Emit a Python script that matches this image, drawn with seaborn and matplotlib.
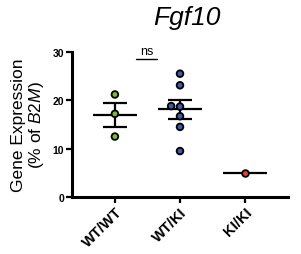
import numpy as np
import pandas as pd
import matplotlib.pyplot as plt
import seaborn as sns

# -----------------------------
# DATA
# -----------------------------
genotypes = ["WT/WT", "WT/KI", "KI/KI"]
wt_wt = [21.2, 17.2, 12.5]
wt_ki = [25.5, 23.1, 18.8, 18.7, 16.7, 14.5, 9.5]
ki_ki = [4.9]
palette = {"WT/WT": "#7cbb3a", "WT/KI": "#3c5ca8", "KI/KI": "#e8402a"}

df = pd.DataFrame({
    "genotype": ["WT/WT"] * len(wt_wt) + ["WT/KI"] * len(wt_ki) + ["KI/KI"] * len(ki_ki),
    "expr": wt_wt + wt_ki + ki_ki,
})
summary = df.groupby("genotype", sort=False)["expr"].agg(["mean", "sem"]).reindex(genotypes)

# -----------------------------
# PLOT
# -----------------------------
sns.set_theme(style="ticks")
plt.rcParams["font.family"] = ["Liberation Sans", "DejaVu Sans"]
plt.rcParams["text.color"] = "black"
plt.rcParams["axes.labelcolor"] = "black"
plt.rcParams["xtick.color"] = "black"
plt.rcParams["ytick.color"] = "black"
plt.rcParams["mathtext.fontset"] = "custom"
plt.rcParams["mathtext.it"] = "Liberation Sans:italic"
plt.rcParams["mathtext.rm"] = "Liberation Sans"

fig = plt.figure(figsize=(3.01, 2.55), dpi=100)
ax = fig.add_axes([0.239, 0.2235, 0.718, 0.569])

sns.swarmplot(data=df, x="genotype", y="expr", hue="genotype", order=genotypes,
              palette=palette, size=4.8, edgecolor="black", linewidth=1.3,
              legend=False, ax=ax, zorder=3)

for i, g in enumerate(genotypes):
    m, s = summary.loc[g, "mean"], summary.loc[g, "sem"]
    ax.hlines(m, i - 0.34, i + 0.34, color="black", lw=1.6, zorder=2)
    if not np.isnan(s):
        ax.vlines(i, m - s, m + s, color="black", lw=1.6, zorder=2)
        ax.hlines([m - s, m + s], i - 0.18, i + 0.18, color="black", lw=1.6, zorder=2)

# ns annotation
ax.plot([0.32, 0.65], [28.6, 28.6], color="black", lw=1, clip_on=False)
ax.text(0.485, 29.0, "ns", ha="center", va="bottom", fontsize=9, clip_on=False)

ax.set_xlim(-0.66, 2.66)
ax.set_ylim(0, 30)
ax.set_yticks([0, 10, 20, 30])
ax.set_yticklabels(["0", "10", "20", "30"], fontsize=7.5, fontweight="bold")
ax.set_xticks(range(len(genotypes)))
ax.set_xticklabels(genotypes, rotation=45, ha="right", rotation_mode="anchor",
                   fontsize=10.5, fontweight="bold")
ax.tick_params(axis="both", width=1.6, length=4, pad=1.5, color="black")

for side in ["left", "bottom"]:
    ax.spines[side].set_linewidth(2.2)
    ax.spines[side].set_color("black")
sns.despine(ax=ax)

ax.set_xlabel("")
ax.set_ylabel("Gene Expression\n(% of $\\mathit{B2M}$)", fontsize=12.5, labelpad=5,
              linespacing=1.05)
ax.set_title("Fgf10", fontsize=19, fontstyle="italic", x=0.53, pad=20)

plt.savefig("out.png", dpi=100)
